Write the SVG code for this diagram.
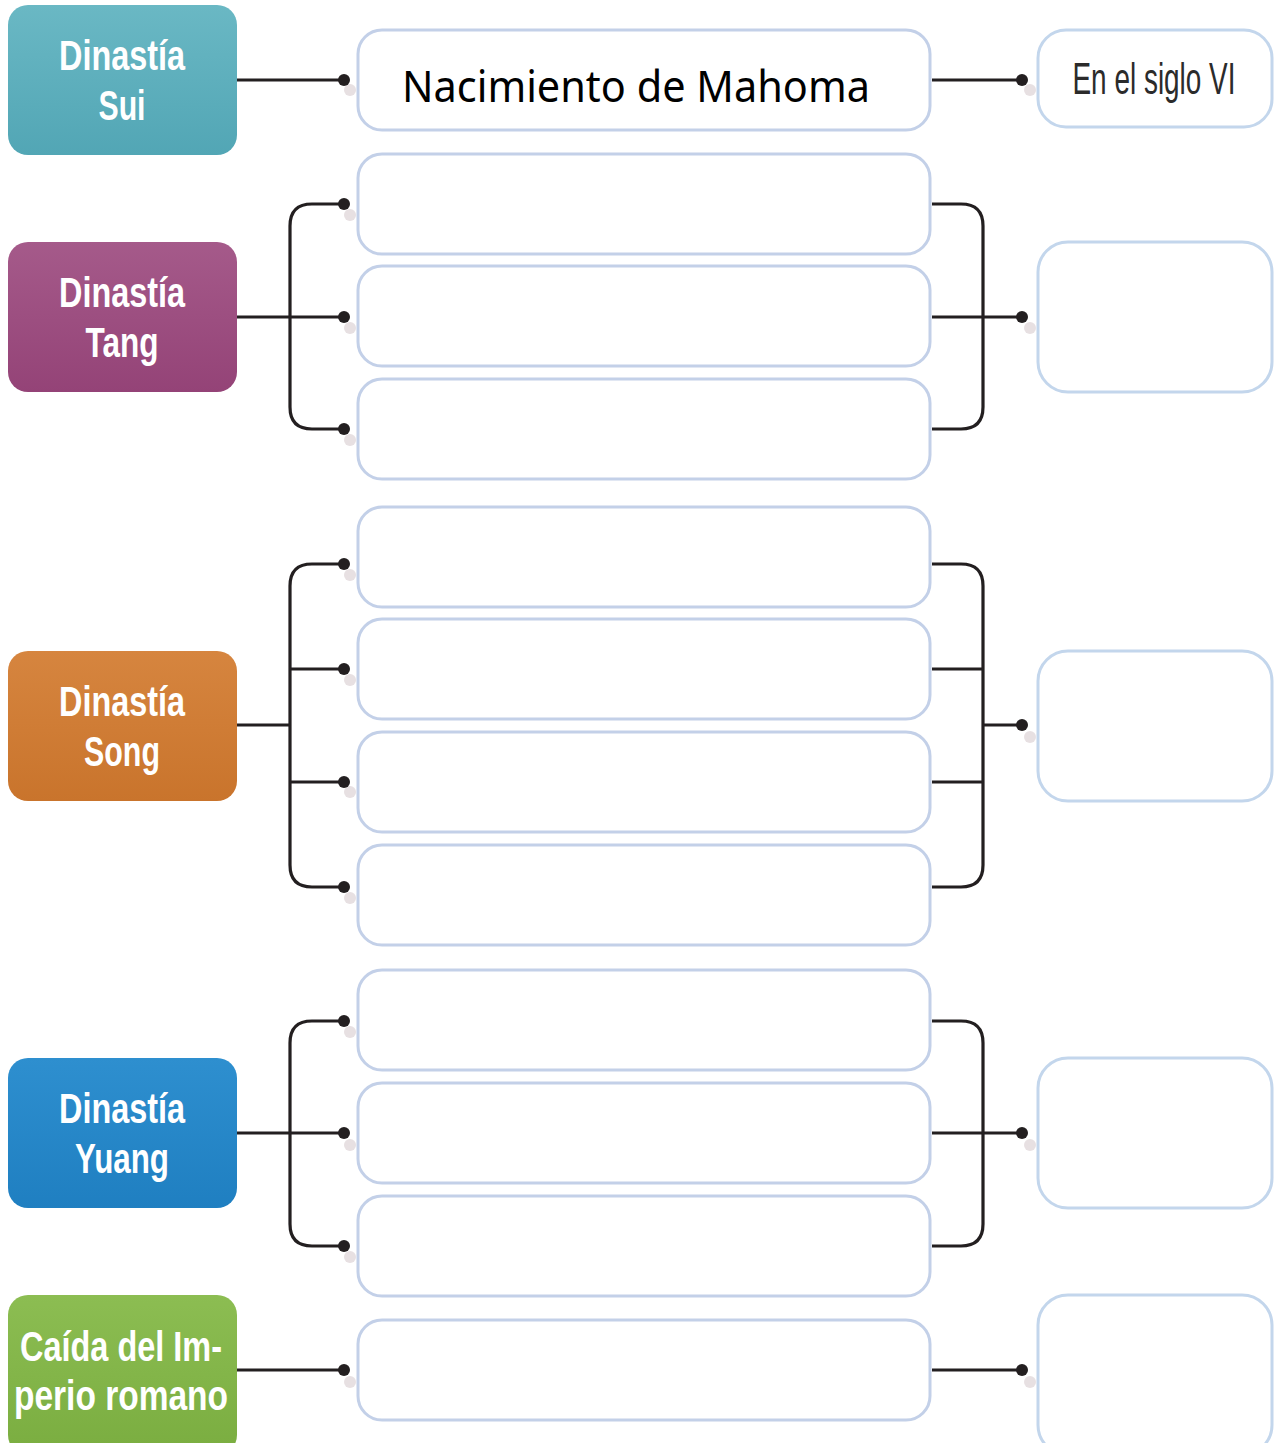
<svg xmlns="http://www.w3.org/2000/svg" width="1282" height="1443" viewBox="0 0 1282 1443">
<defs>
<style>
.box{fill:#fff;stroke:#c3d0e8;stroke-width:3}
.rbox{fill:#fff;stroke:#c3d6ec;stroke-width:3}
.ln{fill:none;stroke:#231f20;stroke-width:3.2}
.dot{fill:#231f20}
.sh{fill:#ddd3d6;opacity:0.7}
.nt{font-family:"Liberation Sans",Arial,sans-serif;font-weight:bold;font-size:42px;fill:#fff;text-anchor:middle}
</style>
<linearGradient id="gSui" x1="0" y1="0" x2="0" y2="1"><stop offset="0" stop-color="#6ab8c4"/><stop offset="1" stop-color="#52a6b5"/></linearGradient>
<linearGradient id="gTang" x1="0" y1="0" x2="0" y2="1"><stop offset="0" stop-color="#a55a8a"/><stop offset="1" stop-color="#944377"/></linearGradient>
<linearGradient id="gSong" x1="0" y1="0" x2="0" y2="1"><stop offset="0" stop-color="#d6853f"/><stop offset="1" stop-color="#c9742c"/></linearGradient>
<linearGradient id="gYuang" x1="0" y1="0" x2="0" y2="1"><stop offset="0" stop-color="#2e8fcf"/><stop offset="1" stop-color="#1f7fc1"/></linearGradient>
<linearGradient id="gCaida" x1="0" y1="0" x2="0" y2="1"><stop offset="0" stop-color="#8cbd52"/><stop offset="1" stop-color="#7aad40"/></linearGradient>
</defs>
<rect width="1282" height="1443" fill="#fff"/>

<g id="sui"><rect x="8" y="5" width="229" height="150" rx="20" fill="url(#gSui)"/>
<text class="nt" x="122" y="70" textLength="126" lengthAdjust="spacingAndGlyphs">Dinastía</text>
<text class="nt" x="122" y="120" textLength="47" lengthAdjust="spacingAndGlyphs">Sui</text></g>
<g id="tang"><rect x="8" y="242" width="229" height="150" rx="20" fill="url(#gTang)"/>
<text class="nt" x="122" y="307" textLength="126" lengthAdjust="spacingAndGlyphs">Dinastía</text>
<text class="nt" x="122" y="357" textLength="73" lengthAdjust="spacingAndGlyphs">Tang</text></g>
<g id="song"><rect x="8" y="651" width="229" height="150" rx="20" fill="url(#gSong)"/>
<text class="nt" x="122" y="716" textLength="126" lengthAdjust="spacingAndGlyphs">Dinastía</text>
<text class="nt" x="122" y="766" textLength="76" lengthAdjust="spacingAndGlyphs">Song</text></g>
<g id="yuang"><rect x="8" y="1058" width="229" height="150" rx="20" fill="url(#gYuang)"/>
<text class="nt" x="122" y="1123" textLength="126" lengthAdjust="spacingAndGlyphs">Dinastía</text>
<text class="nt" x="122" y="1173" textLength="94" lengthAdjust="spacingAndGlyphs">Yuang</text></g>
<g id="caida"><rect x="8" y="1295" width="229" height="160" rx="20" fill="url(#gCaida)"/>
<text class="nt" x="121" y="1361" textLength="202" lengthAdjust="spacingAndGlyphs">Caída del Im-</text>
<text class="nt" x="121" y="1410" textLength="214" lengthAdjust="spacingAndGlyphs">perio romano</text></g>

<g id="m1"><rect class="box" x="358" y="30" width="572" height="100" rx="24"/>
<text x="636" y="102" font-family="'Noto Sans','Open Sans',sans-serif" font-size="43" fill="#000" text-anchor="middle" textLength="468" lengthAdjust="spacingAndGlyphs">Nacimiento de Mahoma</text></g>
<g id="m2"><rect class="box" x="358" y="154" width="572" height="100" rx="24"/></g>
<g id="m3"><rect class="box" x="358" y="266" width="572" height="100" rx="24"/></g>
<g id="m4"><rect class="box" x="358" y="379" width="572" height="100" rx="24"/></g>
<g id="m5"><rect class="box" x="358" y="507" width="572" height="100" rx="24"/></g>
<g id="m6"><rect class="box" x="358" y="619" width="572" height="100" rx="24"/></g>
<g id="m7"><rect class="box" x="358" y="732" width="572" height="100" rx="24"/></g>
<g id="m8"><rect class="box" x="358" y="845" width="572" height="100" rx="24"/></g>
<g id="m9"><rect class="box" x="358" y="970" width="572" height="100" rx="24"/></g>
<g id="m10"><rect class="box" x="358" y="1083" width="572" height="100" rx="24"/></g>
<g id="m11"><rect class="box" x="358" y="1196" width="572" height="100" rx="24"/></g>
<g id="m12"><rect class="box" x="358" y="1320" width="572" height="100" rx="24"/></g>

<g id="r1"><rect class="rbox" x="1038" y="30" width="234" height="97" rx="28"/>
<text transform="translate(1154,94) scale(0.635,1)" x="0" y="0" font-family="'Liberation Sans',Arial,sans-serif" font-size="44" fill="#2b2b2b" text-anchor="middle">En el siglo VI</text></g>
<g id="r2"><rect class="rbox" x="1038" y="242" width="234" height="150" rx="30"/></g>
<g id="r3"><rect class="rbox" x="1038" y="651" width="234" height="150" rx="30"/></g>
<g id="r4"><rect class="rbox" x="1038" y="1058" width="234" height="150" rx="30"/></g>
<g id="r5"><rect class="rbox" x="1038" y="1295" width="234" height="160" rx="30"/></g>

<g id="connectors">
<path class="ln" d="M237 80H344M932 80H1022"/>
<path class="ln" d="M237 317H344M344 204H312Q290 204 290 226V407Q290 429 312 429H344M932 204H961Q983 204 983 226V407Q983 429 961 429H932M932 317H1022"/>
<path class="ln" d="M237 725H290M344 564H312Q290 564 290 586V865Q290 887 312 887H344M290 669H344M290 782H344M932 564H961Q983 564 983 586V865Q983 887 961 887H932M932 669H983M932 782H983M983 725H1022"/>
<path class="ln" d="M237 1133H344M344 1021H312Q290 1021 290 1043V1224Q290 1246 312 1246H344M932 1021H961Q983 1021 983 1043V1224Q983 1246 961 1246H932M932 1133H1022"/>
<path class="ln" d="M237 1370H344M932 1370H1022"/>
<g class="sh">
<circle cx="350" cy="90" r="6"/><circle cx="1030" cy="90" r="6"/>
<circle cx="350" cy="215" r="6"/><circle cx="350" cy="328" r="6"/><circle cx="350" cy="440" r="6"/><circle cx="1030" cy="328" r="6"/>
<circle cx="350" cy="575" r="6"/><circle cx="350" cy="680" r="6"/><circle cx="350" cy="792" r="6"/><circle cx="350" cy="898" r="6"/><circle cx="1030" cy="737" r="6"/>
<circle cx="350" cy="1032" r="6"/><circle cx="350" cy="1145" r="6"/><circle cx="350" cy="1257" r="6"/><circle cx="1030" cy="1145" r="6"/>
<circle cx="350" cy="1382" r="6"/><circle cx="1030" cy="1382" r="6"/>
</g>
<g class="dot">
<circle cx="344" cy="80" r="6"/><circle cx="1022" cy="80" r="6"/>
<circle cx="344" cy="204" r="6"/><circle cx="344" cy="317" r="6"/><circle cx="344" cy="429" r="6"/><circle cx="1022" cy="317" r="6"/>
<circle cx="344" cy="564" r="6"/><circle cx="344" cy="669" r="6"/><circle cx="344" cy="782" r="6"/><circle cx="344" cy="887" r="6"/><circle cx="1022" cy="725" r="6"/>
<circle cx="344" cy="1021" r="6"/><circle cx="344" cy="1133" r="6"/><circle cx="344" cy="1246" r="6"/><circle cx="1022" cy="1133" r="6"/>
<circle cx="344" cy="1370" r="6"/><circle cx="1022" cy="1370" r="6"/>
</g>
</g>
</svg>
